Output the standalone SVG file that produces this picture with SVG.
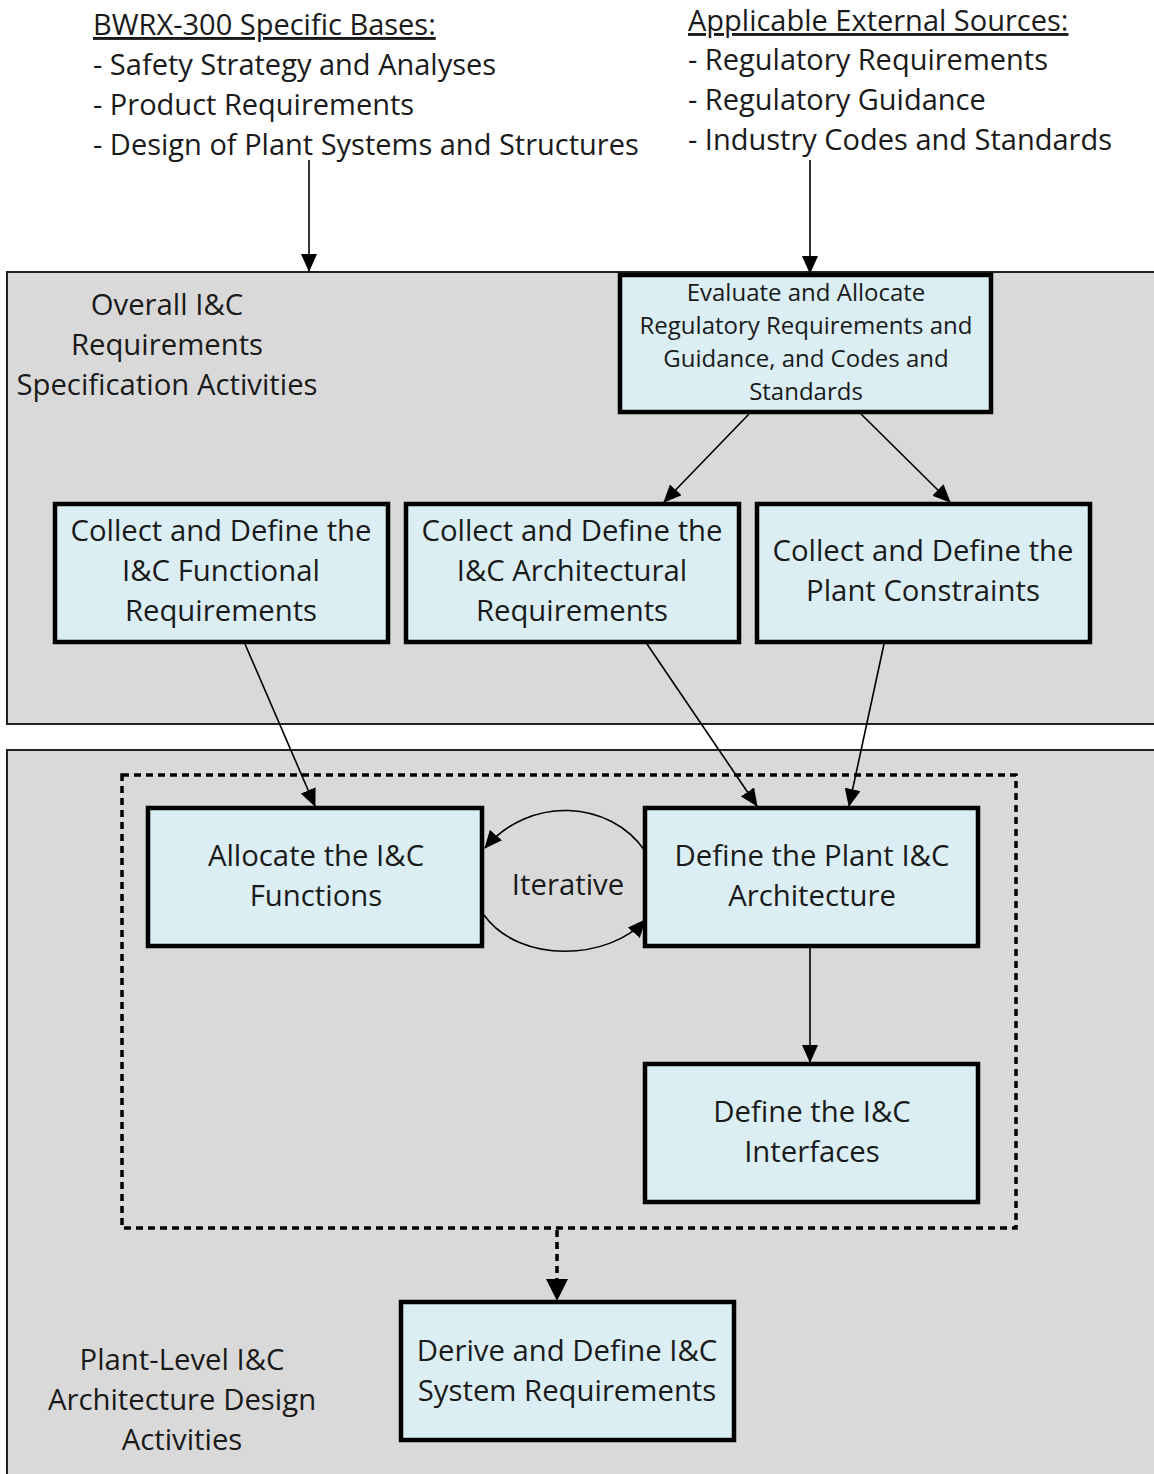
<svg xmlns="http://www.w3.org/2000/svg" width="1154" height="1474" viewBox="0 0 1154 1474">
  <style>
    text { font-family: "Open Sans", Lato, sans-serif; fill: #1a1a1a; }
    .src { font-size: 29px; }
    .lbl { font-size: 29.3px; text-anchor: middle; }
    .small { font-size: 24px; text-anchor: middle; }
    .ul { text-decoration: underline; }
    .panel { fill: #d9d9d9; stroke: #222; stroke-width: 2; }
    .box { fill: #dbeef4; stroke: #000; stroke-width: 4.5; }
    .conn { fill: none; stroke: #000; stroke-width: 1.6; }
    .dash { fill: none; stroke: #000; stroke-width: 3.5; stroke-dasharray: 7 5; }
  </style>
  <defs>
    <marker id="arrow" markerUnits="userSpaceOnUse" markerWidth="18" markerHeight="16" refX="17" refY="8" orient="auto">
      <path d="M0,0 L18,8 L0,16 Z" fill="#000"/>
    </marker>
    <marker id="arrowBig" markerUnits="userSpaceOnUse" markerWidth="22" markerHeight="22" refX="21" refY="11" orient="auto">
      <path d="M0,0 L22,11 L0,22 Z" fill="#000"/>
    </marker>
  </defs>

  <rect width="1154" height="1474" fill="#fff"/>

  <!-- source lists -->
  <g id="bases">
    <text class="src ul" x="93" y="35">BWRX-300 Specific Bases:</text>
    <text class="src" x="93" y="75">- Safety Strategy and Analyses</text>
    <text class="src" x="93" y="115">- Product Requirements</text>
    <text class="src" x="93" y="155">- Design of Plant Systems and Structures</text>
  </g>
  <g id="external">
    <text class="src ul" x="688" y="31">Applicable External Sources:</text>
    <text class="src" x="688" y="70">- Regulatory Requirements</text>
    <text class="src" x="688" y="110">- Regulatory Guidance</text>
    <text class="src" x="688" y="150">- Industry Codes and Standards</text>
  </g>

  <!-- activity panels -->
  <g id="panel-spec">
    <rect class="panel" x="7" y="272" width="1160" height="452"/>
    <text class="lbl" x="167" y="315">Overall I&amp;C</text>
    <text class="lbl" x="167" y="355">Requirements</text>
    <text class="lbl" x="167" y="395">Specification Activities</text>
  </g>
  <g id="panel-design">
    <rect class="panel" x="7" y="750" width="1160" height="740"/>
    <text class="lbl" x="182" y="1370">Plant-Level I&amp;C</text>
    <text class="lbl" x="182" y="1410">Architecture Design</text>
    <text class="lbl" x="182" y="1450">Activities</text>
  </g>

  <rect id="design-group" class="dash" x="122" y="775" width="894" height="453"/>

  <!-- nodes -->
  <g id="evaluate">
    <rect class="box" x="620" y="275" width="371" height="137"/>
    <text class="small" x="806" y="301">Evaluate and Allocate</text>
    <text class="small" x="806" y="334">Regulatory Requirements and</text>
    <text class="small" x="806" y="367">Guidance, and Codes and</text>
    <text class="small" x="806" y="400">Standards</text>
  </g>
  <g id="functional-req">
    <rect class="box" x="55" y="504" width="333" height="138"/>
    <text class="lbl" x="221" y="541">Collect and Define the</text>
    <text class="lbl" x="221" y="581">I&amp;C Functional</text>
    <text class="lbl" x="221" y="621">Requirements</text>
  </g>
  <g id="architectural-req">
    <rect class="box" x="406" y="504" width="333" height="138"/>
    <text class="lbl" x="572" y="541">Collect and Define the</text>
    <text class="lbl" x="572" y="581">I&amp;C Architectural</text>
    <text class="lbl" x="572" y="621">Requirements</text>
  </g>
  <g id="plant-constraints">
    <rect class="box" x="757" y="504" width="333" height="138"/>
    <text class="lbl" x="923" y="561">Collect and Define the</text>
    <text class="lbl" x="923" y="601">Plant Constraints</text>
  </g>
  <g id="allocate">
    <rect class="box" x="148" y="808" width="334" height="138"/>
    <text class="lbl" x="316" y="866">Allocate the I&amp;C</text>
    <text class="lbl" x="316" y="906">Functions</text>
  </g>
  <g id="architecture">
    <rect class="box" x="645" y="808" width="333" height="138"/>
    <text class="lbl" x="812" y="866">Define the Plant I&amp;C</text>
    <text class="lbl" x="812" y="906">Architecture</text>
  </g>
  <g id="interfaces">
    <rect class="box" x="645" y="1064" width="333" height="138"/>
    <text class="lbl" x="812" y="1122">Define the I&amp;C</text>
    <text class="lbl" x="812" y="1162">Interfaces</text>
  </g>
  <g id="system-req">
    <rect class="box" x="401" y="1302" width="333" height="138"/>
    <text class="lbl" x="567" y="1361">Derive and Define I&amp;C</text>
    <text class="lbl" x="567" y="1401">System Requirements</text>
  </g>
  <text class="lbl" x="568" y="895">Iterative</text>

  <!-- connectors -->
  <g id="connectors">
    <line class="conn" x1="309" y1="160" x2="309" y2="271" marker-end="url(#arrow)"/>
    <line class="conn" x1="810" y1="160" x2="810" y2="273" marker-end="url(#arrow)"/>
    <line class="conn" x1="749" y1="414" x2="664" y2="502" marker-end="url(#arrow)"/>
    <line class="conn" x1="861" y1="414" x2="950" y2="502" marker-end="url(#arrow)"/>
    <line class="conn" x1="245" y1="644" x2="315" y2="806" marker-end="url(#arrow)"/>
    <line class="conn" x1="647" y1="644" x2="757" y2="806" marker-end="url(#arrow)"/>
    <line class="conn" x1="884" y1="644" x2="849" y2="806" marker-end="url(#arrow)"/>
    <line class="conn" x1="810" y1="948" x2="810" y2="1062" marker-end="url(#arrow)"/>
    <path class="conn" d="M645,851 C610,800 530,795 485,848" marker-end="url(#arrow)"/>
    <path class="conn" d="M484,915 C520,965 610,960 645,920" marker-end="url(#arrow)"/>
    <line x1="557" y1="1230" x2="557" y2="1300" stroke="#000" stroke-width="3.5" stroke-dasharray="7 5" marker-end="url(#arrowBig)"/>
  </g>
</svg>
